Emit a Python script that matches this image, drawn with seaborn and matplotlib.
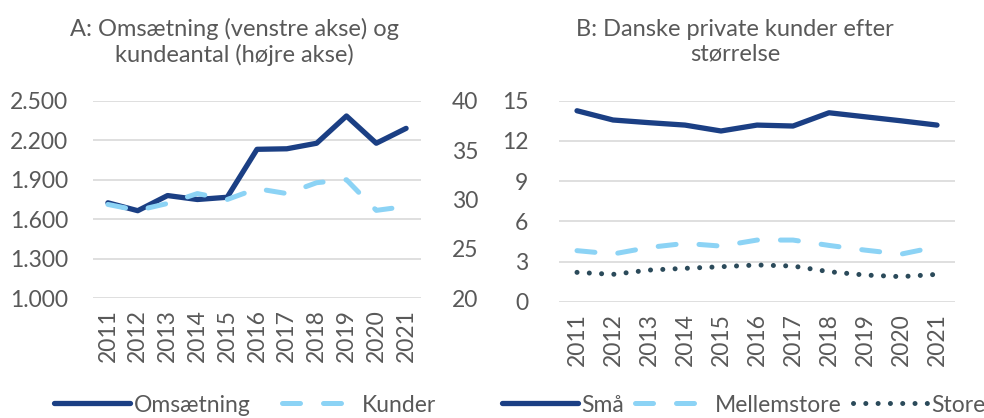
import matplotlib
matplotlib.use('Agg')
import numpy as np
import pandas as pd
from matplotlib import pyplot as plt
from matplotlib.ticker import FuncFormatter
import seaborn as sns

# data
years = list(range(2011, 2022))
omsaetning = [1725, 1665, 1780, 1750, 1767, 2131, 2135, 2177, 2384, 2177, 2290]
kunder = [29.5, 28.9, 29.6, 30.6, 30.0, 31.1, 30.6, 31.7, 32.0, 28.9, 29.3]
smaa = [14.25, 13.56, 13.36, 13.18, 12.74, 13.18, 13.11, 14.1, 13.8, 13.5, 13.18]
mellemstore = [3.81, 3.56, 4.05, 4.35, 4.15, 4.6, 4.6, 4.2, 3.85, 3.55, 4.1]
store = [2.19, 2.04, 2.36, 2.49, 2.61, 2.74, 2.66, 2.24, 1.99, 1.87, 2.04]

NAVY = '#1B3F84'
LIGHT = '#8CD3F5'
SLATE = '#2B4A5A'
GREY = '#595959'
GRID = '#D9D9D9'

sns.set_theme(style='white')
plt.rcParams['font.family'] = ['Lato', 'DejaVu Sans']
plt.rcParams['text.color'] = GREY

dfA = pd.DataFrame({'year': years, 'Omsætning': omsaetning, 'Kunder': kunder})
dfB = pd.DataFrame({'year': years, 'Små': smaa, 'Mellemstore': mellemstore, 'Store': store})

fig = plt.figure(figsize=(9.84, 4.18), dpi=100)
axA = fig.add_axes([93/984, 1 - 298.3/418, (421 - 93)/984, (298.3 - 100.7)/418])
axB = fig.add_axes([559/984, 1 - 301.7/418, (955 - 559)/984, (301.7 - 100.7)/418])

DASH = (3.6, 4.6)
DOT = (0.01, 2.45)


def style_axis(ax):
    for s in ax.spines.values():
        s.set_visible(False)
    ax.tick_params(axis='both', length=0, labelsize=16.5, labelcolor=GREY)
    ax.set_xlabel('')
    ax.set_ylabel('')


# ---- Panel A ----
axA.grid(axis='y', color=GRID, lw=1.2)
axA.set_axisbelow(True)
sns.lineplot(data=dfA, x='year', y='Omsætning', ax=axA, color=NAVY, lw=3.8,
             label='Omsætning', legend=False, solid_capstyle='round')
axA.set_xlim(2010.5, 2021.5)
axA.set_ylim(1000, 2500)
axA.set_yticks(np.arange(1000, 2501, 300))
axA.yaxis.set_major_formatter(FuncFormatter(lambda v, p: f'{int(v):,}'.replace(',', '.')))
axA.set_xticks(years)
axA.set_xticklabels([str(y) for y in years], rotation=90)
style_axis(axA)
axA.tick_params(axis='y', pad=18)
axA.tick_params(axis='x', pad=8)

axA2 = axA.twinx()
sns.lineplot(data=dfA, x='year', y='Kunder', ax=axA2, color=LIGHT, lw=3.6,
             label='Kunder', legend=False)
axA2.lines[0].set_dashes(DASH)
axA2.lines[0].set_dash_capstyle('round')
axA2.set_ylim(20, 40)
axA2.set_yticks(np.arange(20, 41, 5))
axA2.grid(False)
style_axis(axA2)
axA2.tick_params(axis='y', pad=22)

# ---- Panel B ----
axB.grid(axis='y', color=GRID, lw=1.2)
axB.set_axisbelow(True)
sns.lineplot(data=dfB, x='year', y='Små', ax=axB, color=NAVY, lw=3.8,
             label='Små', legend=False, solid_capstyle='round')
sns.lineplot(data=dfB, x='year', y='Mellemstore', ax=axB, color=LIGHT, lw=3.6,
             label='Mellemstore', legend=False)
sns.lineplot(data=dfB, x='year', y='Store', ax=axB, color=SLATE, lw=3.6,
             label='Store', legend=False)
axB.lines[1].set_dashes(DASH)
axB.lines[1].set_dash_capstyle('round')
axB.lines[2].set_dashes(DOT)
axB.lines[2].set_dash_capstyle('round')
axB.set_xlim(2010.5, 2021.5)
axB.set_ylim(0, 15)
axB.set_yticks(np.arange(0, 16, 3))
axB.set_xticks(years)
axB.set_xticklabels([str(y) for y in years], rotation=90)
style_axis(axB)
axB.tick_params(axis='y', pad=22)
axB.tick_params(axis='x', pad=8)

# titles
fig.text(234/984, 1 - 42/418, 'A: Omsætning (venstre akse) og\nkundeantal (højre akse)',
         ha='center', va='center', fontsize=17, color=GREY, linespacing=1.2)
fig.text(735/984, 1 - 42/418, 'B: Danske private kunder efter\nstørrelse',
         ha='center', va='center', fontsize=17, color=GREY, linespacing=1.2)

# legends
hA = axA.get_lines()[:1] + axA2.get_lines()[:1]
fig.legend(hA, ['Omsætning', 'Kunder'], loc='center', bbox_to_anchor=(245/984, 1 - 405/418),
           ncol=2, frameon=False, fontsize=16.5, handlelength=3.3, handletextpad=0.15,
           columnspacing=1.4, labelcolor=GREY)
hB = axB.get_lines()[:3]
fig.legend(hB, ['Små', 'Mellemstore', 'Store'], loc='center', bbox_to_anchor=(744/984, 1 - 405/418),
           ncol=3, frameon=False, fontsize=16.5, handlelength=3.3, handletextpad=0.15,
           columnspacing=0.5, labelcolor=GREY)

fig.savefig('out.png', dpi=100)
